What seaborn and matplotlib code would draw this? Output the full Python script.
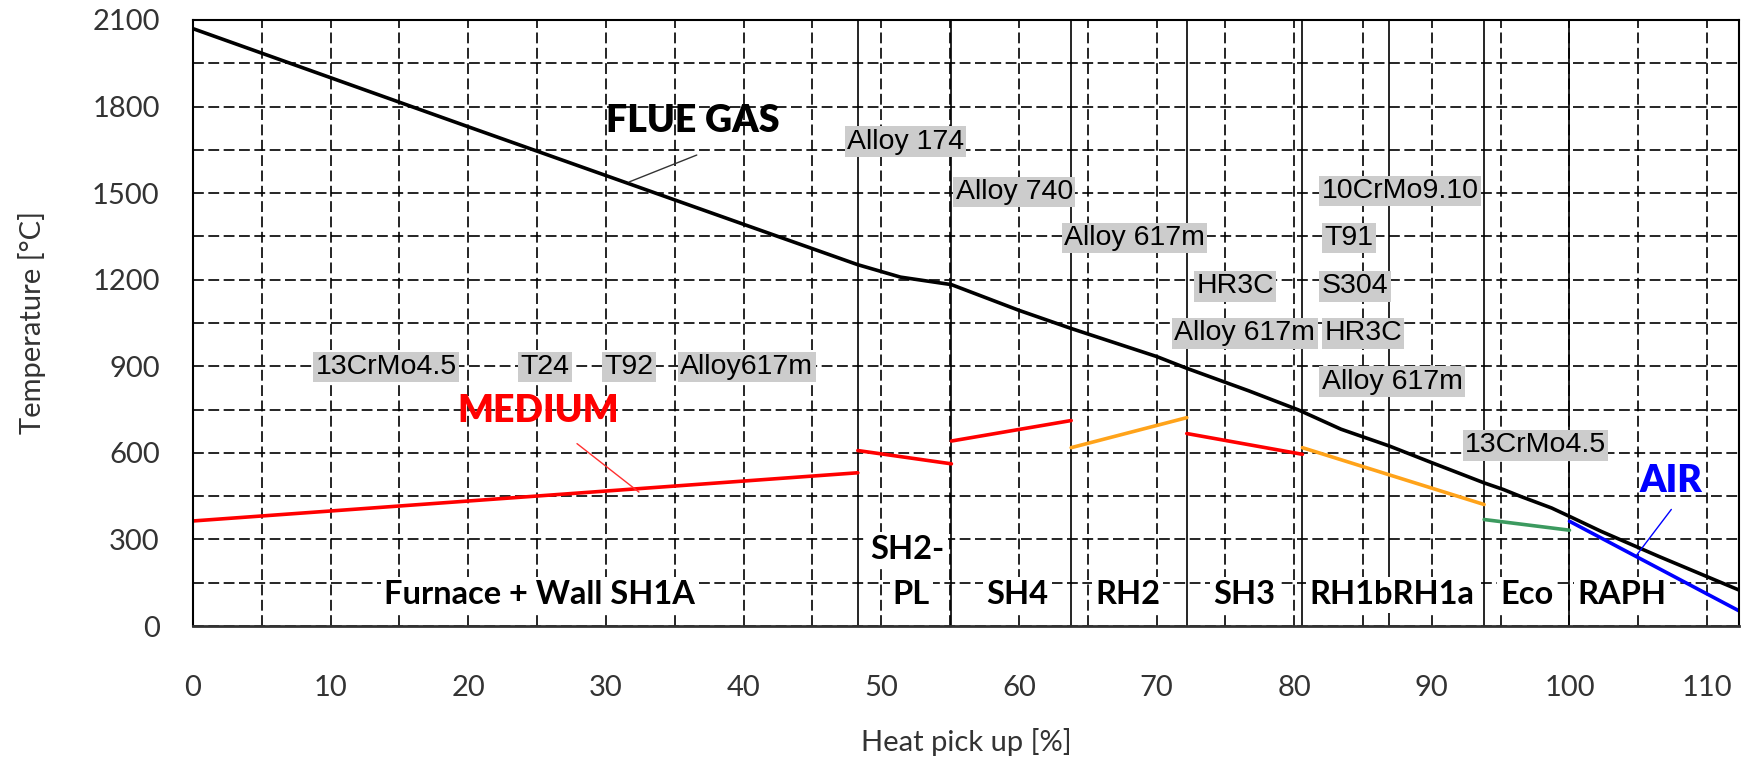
import matplotlib
matplotlib.use('Agg')
import numpy as np
import pandas as pd
import matplotlib.pyplot as plt
import seaborn as sns
from matplotlib.ticker import MultipleLocator

# flue gas temperature along the heat pick up
flue_x = [0, 10, 20, 30, 40, 48.3, 51.4, 55.1, 60, 63.8,
          70, 72.2, 76.7, 80.3, 83.4, 86.9, 90, 93.8, 95.2, 96.4, 98.7, 100,
          102.3, 106.5, 112.3]
flue_t = [2070, 1900, 1730, 1561, 1392, 1252,
          1209, 1183, 1094, 1031, 934, 893, 815, 749, 682, 624, 566, 496, 473,
          450, 409, 380, 328, 241, 125]

# medium / air segments (start and end of each heating surface)
seg_name = ['Furnace', 'SH2', 'SH4', 'RH2', 'SH3', 'RH1', 'Eco', 'RAPH']
seg_kind = ['steam', 'steam', 'steam', 'reheat', 'steam', 'reheat', 'water', 'air']
seg_x0 = [0, 48.3, 55.1, 63.8, 72.2, 80.6, 93.8, 100]
seg_x1 = [48.3, 55.1, 63.8, 72.2, 80.6, 93.8, 100, 112.3]
seg_t0 = [364, 608, 641, 618, 667, 618, 369, 363]
seg_t1 = [531, 562, 712, 722, 595, 421, 332, 53]

# borders between heating surfaces
section_bounds = [48.3, 55.1, 63.8, 72.2, 80.6, 86.9, 93.8, 100]
section_text = ['Furnace + Wall SH1A', 'SH2-', 'PL', 'SH4', 'RH2', 'SH3',
                'RH1bRH1a', 'Eco', 'RAPH']
section_x = [25.2, 51.9, 52.2, 59.9, 67.9, 76.4, 87.1, 96.9, 103.8]
section_t = [108, 264, 108, 108, 108, 108, 108, 108, 108]

# materials
mat_text = ['13CrMo4.5', 'T24', 'T92', 'Alloy617m', 'Alloy 174', 'Alloy 740',
            'Alloy 617m', 'HR3C', 'Alloy 617m', '10CrMo9.10', 'T91', 'S304',
            'HR3C', 'Alloy 617m', '13CrMo4.5']
mat_x = [8.9, 23.8, 29.9, 35.4, 47.5, 55.4, 63.3, 72.9, 71.3, 82.0, 82.2, 82.0,
         82.2, 82.0, 92.4]
mat_t = [898, 898, 898, 898, 1678, 1504, 1344, 1177, 1014, 1508, 1344, 1177,
         1014, 847, 626]

df_flue = pd.DataFrame({'x': flue_x, 't': flue_t})
rows = []
for i in range(len(seg_name)):
    rows.append({'seg': seg_name[i], 'kind': seg_kind[i], 'x': seg_x0[i], 't': seg_t0[i]})
    rows.append({'seg': seg_name[i], 'kind': seg_kind[i], 'x': seg_x1[i], 't': seg_t1[i]})
df_med = pd.DataFrame(rows)
palette = {'steam': '#ff0000', 'reheat': '#ffa31a', 'water': '#3c9a5f', 'air': '#0000ff'}

sns.set_style('white')
plt.rcParams['font.family'] = ['Lato', 'DejaVu Sans']

fig = plt.figure(figsize=(17.59, 7.6), dpi=100)
ax = fig.add_axes([0.1097, 0.1763, 0.8788, 0.7974])

# grid
ax.set_axisbelow(True)
ax.xaxis.set_major_locator(MultipleLocator(10))
ax.xaxis.set_minor_locator(MultipleLocator(5))
ax.yaxis.set_major_locator(MultipleLocator(300))
ax.yaxis.set_minor_locator(MultipleLocator(150))
ax.grid(which='both', color='black', lw=1.2, linestyle=(0, (6.5, 2.7)))

for b in section_bounds:
    ax.axvline(b, color='black', lw=1.2, zorder=1.5)

sns.lineplot(data=df_flue, x='x', y='t', color='black', lw=2.6, ax=ax,
             estimator=None, sort=False)
sns.lineplot(data=df_med, x='x', y='t', hue='kind', units='seg', palette=palette,
             lw=2.6, ax=ax, estimator=None, sort=False, legend=False)

# section labels
for s, x, t in zip(section_text, section_x, section_t):
    ax.text(x, t, s, ha='center', va='center', fontsize=23.5, fontweight='bold',
            color='black', zorder=3,
            bbox=dict(boxstyle='square,pad=0.1', fc='white', ec='none'))

# material labels
for s, x, t in zip(mat_text, mat_x, mat_t):
    ax.text(x, t, s, ha='left', va='center', fontsize=20.5, family='Liberation Sans',
            color='black', zorder=4,
            bbox=dict(boxstyle='square,pad=0.08', fc='#cccccc', ec='none'))

# stream names with leader lines
ax.text(36.3, 1750, 'FLUE GAS', ha='center', va='center', fontsize=27,
        fontweight='heavy', color='black')
ax.annotate('', xy=(31.7, 1539), xytext=(36.6, 1632),
            arrowprops=dict(arrowstyle='-', color='#333333', lw=1, shrinkA=0, shrinkB=0))
ax.text(25.1, 746, 'MEDIUM', ha='center', va='center', fontsize=27,
        fontweight='heavy', color='#ff0000')
ax.annotate('', xy=(32.4, 464), xytext=(27.9, 632),
            arrowprops=dict(arrowstyle='-', color='#ff3030', lw=1, shrinkA=0, shrinkB=0))
ax.text(107.35, 502, 'AIR', ha='center', va='center', fontsize=27,
        fontweight='heavy', color='#0000ff')
ax.annotate('', xy=(104.9, 247), xytext=(107.4, 404),
            arrowprops=dict(arrowstyle='-', color='#0000ff', lw=1, shrinkA=0, shrinkB=0))

ax.set_xlim(0, 112.3)
ax.set_ylim(0, 2100)
ax.set_xlabel('Heat pick up [%]', fontsize=21, color='#333333', labelpad=20)
ax.set_ylabel('Temperature [°C]', fontsize=21, color='#333333', labelpad=33)
ax.tick_params(axis='both', which='major', direction='out', labelsize=21,
               labelcolor='#333333', color='#333333', width=1.5)
ax.tick_params(axis='x', which='major', length=11, pad=24)
ax.tick_params(axis='y', which='major', length=14, pad=10)
ax.tick_params(which='minor', length=0)
for sp in ax.spines.values():
    sp.set_color('black')
    sp.set_linewidth(1.5)
ax.spines['bottom'].set_color('#333333')
ax.spines['bottom'].set_linewidth(2)

fig.savefig('out.png', dpi=100)
